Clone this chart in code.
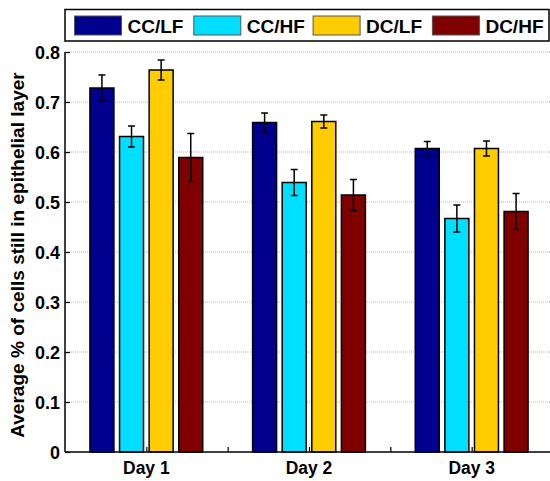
<!DOCTYPE html>
<html>
<head>
<meta charset="utf-8">
<script src="https://cdn.jsdelivr.net/npm/d3@7"></script>
<style>
  body { margin: 0; background: #fff; }
  svg { display: block; font-family: "Liberation Sans", Arial, sans-serif; font-weight: bold; }
</style>
</head>
<body>
<div id="chart"></div>
<script>
const days = ["Day 1", "Day 2", "Day 3"];
const series = ["CC/LF", "CC/HF", "DC/LF", "DC/HF"];
const colors = ["#00008f", "#00dfff", "#ffcc00", "#800000"];

// mean values per series, one entry per day
const ccLF = [0.728, 0.659, 0.607];
const ccHF = [0.631, 0.539, 0.467];
const dcLF = [0.764, 0.661, 0.607];
const dcHF = [0.589, 0.514, 0.481];

// error bar half-lengths
const ccLFErr = [0.026, 0.019, 0.014];
const ccHFErr = [0.021, 0.026, 0.027];
const dcLFErr = [0.020, 0.013, 0.015];
const dcHFErr = [0.048, 0.031, 0.036];

const yTicks = [0, 0.1, 0.2, 0.3, 0.4, 0.5, 0.6, 0.7, 0.8];
const xTicks = [1, 1.5, 2, 2.5, 3];

const values = [ccLF, ccHF, dcLF, dcHF];
const errors = [ccLFErr, ccHFErr, dcLFErr, dcHFErr];

const width = 550,
  height = 481,
  margin = { left: 65, right: -3, top: 52, bottom: 29 };

const svg = d3
  .select("#chart")
  .append("svg")
  .attr("width", width)
  .attr("height", height);

// size a text so its rendered width matches the width seen in the picture
const fitFont = (node, target) => {
  const w = node.getComputedTextLength();
  const fs = parseFloat(node.getAttribute("font-size"));
  return w > 0 ? (fs * target) / w : fs;
};

const x = d3
  .scaleLinear()
  .domain([0.5, 3.5])
  .range([margin.left, width - margin.right]);
const y = d3
  .scaleLinear()
  .domain([0, 0.8])
  .range([height - margin.bottom, margin.top]);
const sub = d3
  .scaleBand()
  .domain(series)
  .range([-56.4, 56.4])
  .paddingInner(0.19);

// grid
svg
  .append("g")
  .selectAll("line")
  .data(yTicks.slice(1))
  .enter()
  .append("line")
  .attr("x1", x(0.5))
  .attr("x2", width)
  .attr("y1", (d) => y(d))
  .attr("y2", (d) => y(d))
  .attr("stroke", "#b8b8b8")
  .attr("stroke-width", 1)
  .attr("stroke-dasharray", "1,1");

// bars
const rows = [];
series.forEach((s, i) => {
  days.forEach((d, j) => {
    rows.push({ s, i, day: j + 1, v: values[i][j], e: errors[i][j] });
  });
});

const bars = svg.append("g");
bars
  .selectAll("rect")
  .data(rows)
  .enter()
  .append("rect")
  .attr("x", (d) => x(d.day) + sub(d.s))
  .attr("y", (d) => y(d.v))
  .attr("width", sub.bandwidth())
  .attr("height", (d) => y(0) - y(d.v))
  .attr("fill", (d) => colors[d.i])
  .attr("stroke", "#000")
  .attr("stroke-width", 1.5);

// error bars
const eb = svg
  .append("g")
  .attr("stroke", "#000")
  .attr("stroke-width", 1.5)
  .selectAll("g")
  .data(rows)
  .enter()
  .append("g")
  .attr("transform", (d) => "translate(" + (x(d.day) + sub(d.s) + sub.bandwidth() / 2) + ",0)");
eb.append("line")
  .attr("y1", (d) => y(d.v + d.e))
  .attr("y2", (d) => y(d.v - d.e));
eb.append("line")
  .attr("x1", -3.5)
  .attr("x2", 3.5)
  .attr("y1", (d) => y(d.v + d.e))
  .attr("y2", (d) => y(d.v + d.e));
eb.append("line")
  .attr("x1", -3.5)
  .attr("x2", 3.5)
  .attr("y1", (d) => y(d.v - d.e))
  .attr("y2", (d) => y(d.v - d.e));

// axes
const yAxis = svg
  .append("g")
  .attr("transform", "translate(" + x(0.5) + ",0)")
  .call(
    d3
      .axisRight(y)
      .tickValues(yTicks)
      .tickSize(5)
      .tickFormat((d) => (d === 0 ? "0" : d3.format(".1f")(d)))
  );
yAxis.select(".domain").attr("stroke", "#000").attr("stroke-width", 1.5).attr("d", "M0," + y(0.8) + "V" + y(0));
yAxis.selectAll(".tick line").attr("stroke", "#000").attr("stroke-width", 1.2);
const tickText = yAxis
  .selectAll(".tick text")
  .attr("x", -5)
  .attr("dy", "0.36em")
  .attr("text-anchor", "end")
  .attr("font-size", 17)
  .attr("font-weight", "bold")
  .attr("font-family", "Liberation Sans, Arial, sans-serif")
  .attr("fill", "#000");
const tickFs = fitFont(tickText.filter((d) => d === 0.8).node(), 25);
tickText.attr("font-size", tickFs);

const xAxis = svg
  .append("g")
  .attr("transform", "translate(0," + y(0) + ")")
  .call(
    d3
      .axisTop(x)
      .tickValues(xTicks)
      .tickSize(5)
      .tickFormat("")
  );
xAxis.select(".domain").attr("stroke", "#000").attr("stroke-width", 1.5).attr("d", "M" + x(0.5) + ",0H" + width);
xAxis.selectAll(".tick line").attr("stroke", "#000").attr("stroke-width", 1.2);

const dayText = svg
  .append("g")
  .selectAll("text")
  .data(days)
  .enter()
  .append("text")
  .attr("x", (d, i) => x(i + 1))
  .attr("y", 474.3)
  .attr("text-anchor", "middle")
  .attr("font-size", 17)
  .text((d) => d);
dayText.attr("font-size", fitFont(dayText.node(), 46.6));

// y label
const yLabel = svg
  .append("text")
  .attr("transform", "translate(23.5," + 255 + ") rotate(-90)")
  .attr("text-anchor", "middle")
  .attr("font-size", 17)
  .text("Average % of cells still in epithelial layer");
yLabel.attr("font-size", fitFont(yLabel.node(), 366));

// legend
const legend = svg.append("g");
legend
  .append("rect")
  .attr("x", 65)
  .attr("y", 9.5)
  .attr("width", 484)
  .attr("height", 31.5)
  .attr("fill", "#fff")
  .attr("stroke", "#000")
  .attr("stroke-width", 1.5);
const items = legend
  .selectAll("g")
  .data(series)
  .enter()
  .append("g")
  .attr("transform", (d, i) => "translate(" + (74.5 + i * 119.3) + ",16)");
items
  .append("rect")
  .attr("width", 47)
  .attr("height", 19)
  .attr("fill", (d, i) => colors[i])
  .attr("stroke", "#555")
  .attr("stroke-width", 1);
const legText = items
  .append("text")
  .attr("x", 53)
  .attr("y", 16.5)
  .attr("font-size", 19)
  .text((d) => d);
legText.attr("font-size", fitFont(legText.node(), 56));
</script>
</body>
</html>
